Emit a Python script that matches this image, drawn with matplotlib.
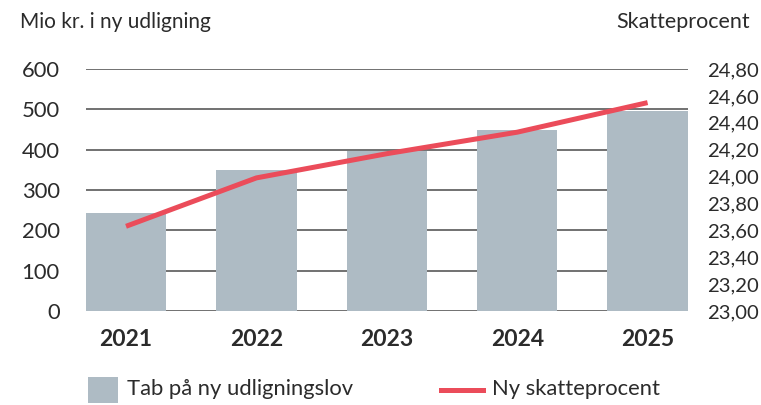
import matplotlib
matplotlib.use("Agg")
import matplotlib.pyplot as plt
from matplotlib.patches import Rectangle
from matplotlib.lines import Line2D

plt.rcParams['font.family'] = ['Lato', 'DejaVu Sans']

years = ["2021", "2022", "2023", "2024", "2025"]
tab = [243, 350, 397, 449, 495]
skat = [23.63, 23.99, 24.17, 24.33, 24.55]
left_ticks = [0, 100, 200, 300, 400, 500, 600]
right_ticks = [23.0, 23.2, 23.4, 23.6, 23.8, 24.0, 24.2, 24.4, 24.6, 24.8]

bar_color = "#AEBBC4"
line_color = "#EB4C5A"
text_color = "#2b2b2b"

W, H = 761, 405
fig = plt.figure(figsize=(W / 100, H / 100), dpi=100)
ax = fig.add_axes([86 / W, 1 - 311 / H, (688 - 86) / W, (311 - 69) / H])
x = list(range(len(years)))
ax.set_axisbelow(True)
ax.bar(x, tab, width=0.615, color=bar_color, zorder=2)
ax.set_xlim(-0.307, 4.31)
ax.set_ylim(0, 600)
ax.set_yticks(left_ticks)
ax.set_yticklabels([str(t) for t in left_ticks])
ax.yaxis.grid(True, color="#4a4a4a", linewidth=1.1, zorder=0)
ax.tick_params(axis='y', length=0, pad=19, labelsize=15.8, labelcolor=text_color)
ax.set_xticks(x)
ax.set_xticklabels(years, fontweight='bold')
ax.tick_params(axis='x', length=0, pad=13, labelsize=16.5, labelcolor=text_color)
for s in ax.spines.values():
    s.set_visible(False)

ax2 = ax.twinx()
ax2.plot(x, skat, color=line_color, linewidth=3.6, zorder=5, solid_capstyle='butt')
ax2.set_ylim(23.0, 24.8)
ax2.set_yticks(right_ticks)
ax2.set_yticklabels([f"{t:.2f}".replace(".", ",") for t in right_ticks])
ax2.tick_params(axis='y', length=0, pad=13.5, labelsize=14.6, labelcolor=text_color)
for s in ax2.spines.values():
    s.set_visible(False)

fig.text(20 / W, 1 - 22 / H, "Mio kr. i ny udligning", fontsize=15, color=text_color,
         ha='left', va='center')
fig.text(750 / W, 1 - 22 / H, "Skatteprocent", fontsize=15.5, color=text_color,
         ha='right', va='center')

# legend
fig.patches.append(Rectangle((88 / W, 1 - 403 / H), 30 / W, 26 / H, transform=fig.transFigure,
                             facecolor=bar_color, edgecolor='none'))
fig.text(127 / W, 1 - 389 / H, "Tab på ny udligningslov", fontsize=15.8, color=text_color,
         ha='left', va='center')
fig.lines.append(Line2D([441 / W, 483 / W], [1 - 390 / H, 1 - 390 / H], transform=fig.transFigure,
                        color=line_color, linewidth=3.6))
fig.text(492 / W, 1 - 389 / H, "Ny skatteprocent", fontsize=15.8, color=text_color,
         ha='left', va='center')

fig.savefig("out.png", dpi=100)
